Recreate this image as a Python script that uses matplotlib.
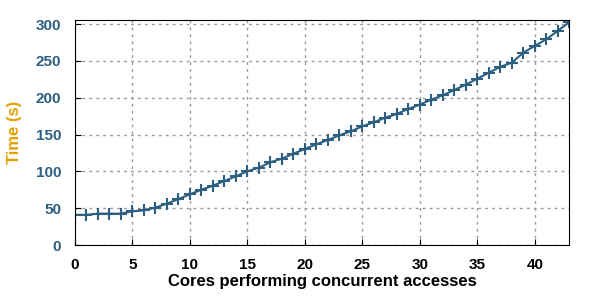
import matplotlib.pyplot as plt

cores = list(range(44))
time_s = [41, 41, 42.6, 42.6, 42.6, 45.8, 47.1, 50.8, 56.2, 62.5,
          68.9, 75.2, 80.6, 87, 93.4, 100.2, 105.1, 112.4, 117.4, 124.1,
          130.5, 136.8, 142.7, 149.1, 154.5, 161.3, 166.8, 173.1, 178.1, 184.9,
          190.8, 197.6, 203.5, 210.7, 217.9, 226, 234.2, 242, 247.8, 261.4,
          270.5, 279.6, 290.9, 303]

line_color = '#2c5f80'
plt.rcParams['font.family'] = ['Liberation Sans', 'DejaVu Sans']
plt.rcParams['font.weight'] = 'bold'

fig = plt.figure(figsize=(6, 3), dpi=100)
ax = fig.add_axes([0.125, 0.1833, 0.824, 0.7484])

ax.plot(cores, time_s, color=line_color, linewidth=1.5, marker='+',
        markersize=8, markeredgewidth=1.5)

ax.set_xlim(0, 43)
ax.set_ylim(0, 305)
ax.set_xticks(range(0, 41, 5))
ax.set_yticks(range(0, 301, 50))
ax.grid(True, linestyle=(0, (2, 3)), color='#999999', linewidth=1)
ax.tick_params(direction='in', length=4, labelsize=11)
ax.tick_params(axis='x', pad=9)
ax.tick_params(axis='y', labelcolor=line_color, pad=10)
for lbl in ax.get_xticklabels() + ax.get_yticklabels():
    lbl.set_fontweight('bold')

ax.set_xlabel('Cores performing concurrent accesses', fontsize=12,
              fontweight='bold', labelpad=2)
ax.set_ylabel('Time (s)', fontsize=12, fontweight='bold', color='#e69f00',
              labelpad=10)

fig.savefig('out.png', dpi=100)
